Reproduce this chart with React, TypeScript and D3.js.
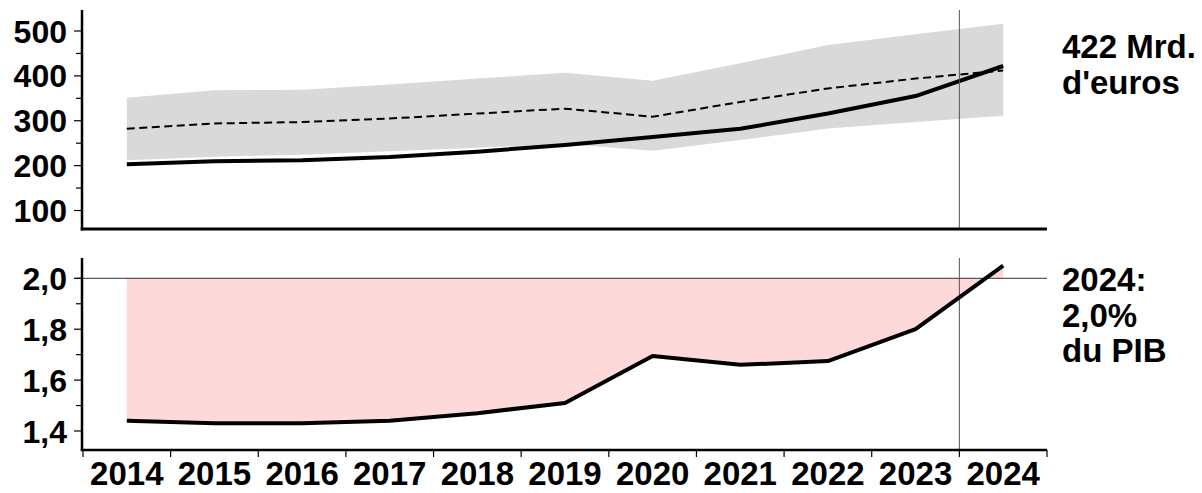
import React from 'react';
import * as d3 from 'd3';

const years = [2014, 2015, 2016, 2017, 2018, 2019, 2020, 2021, 2022, 2023, 2024];
const spending = [203, 210, 212, 219, 231, 246, 264, 282, 316, 355, 422];
const average = [282, 294, 297, 305, 316, 327, 309, 342, 372, 394, 412];
const rangeHigh = [351, 368, 369, 381, 394, 407, 389, 428, 469, 493, 516];
const rangeLow = [212, 220, 224, 232, 240, 248, 233, 257, 283, 297, 311];
const shareGDP = [1.44, 1.43, 1.43, 1.44, 1.47, 1.51, 1.695, 1.66, 1.675, 1.8, 2.05];
const topTicks = [100, 200, 300, 400, 500];
const topMinor = [150, 250, 350, 450];
const bottomTicks = [1.4, 1.6, 1.8, 2.0];
const bottomMinor = [1.5, 1.7, 1.9];
const targetShare = 2.0;
const markerYear = 2023.5;
const labelTop = ['422 Mrd.', "d'euros"];
const labelBottom = ['2024:', '2,0%', 'du PIB'];

const W = 1202;
const H = 493;
const FONT = '"Liberation Sans", Arial, sans-serif';

const frLocale = d3.formatLocale({ decimal: ',', thousands: ' ', grouping: [3], currency: ['', ' €'] });
const fmt1 = frLocale.format('.1f');

export default function App() {
  const x = d3.scaleLinear().domain([2013.5, 2024.5]).range([83, 1047]);
  const yTop = d3.scaleLinear().domain([58.77, 546.8]).range([229, 10]);
  const yBot = d3.scaleLinear().domain([1.3253, 2.0798]).range([450, 258]);

  const idx = years.map((_, i) => i);
  const band = d3.area<number>()
    .x((i) => x(years[i]))
    .y0((i) => yTop(rangeLow[i]))
    .y1((i) => yTop(rangeHigh[i]))(idx) as string;
  const avgLine = d3.line<number>().x((i) => x(years[i])).y((i) => yTop(average[i]))(idx) as string;
  const spLine = d3.line<number>().x((i) => x(years[i])).y((i) => yTop(spending[i]))(idx) as string;
  const pinkArea = d3.area<number>()
    .x((i) => x(years[i]))
    .y0(() => yBot(targetShare))
    .y1((i) => yBot(shareGDP[i]))(idx) as string;
  const shareLine = d3.line<number>().x((i) => x(years[i])).y((i) => yBot(shareGDP[i]))(idx) as string;

  const boundaries = d3.range(2013.5, 2025, 1);
  const axisX0 = x.range()[0] - 1;
  const axisX1 = x.range()[1];
  const markX = x(markerYear);

  return (
    <svg width={W} height={H} style={{ position: 'absolute', left: 0, top: 0, display: 'block', background: '#fff' }}>
      {/* Top panel */}
      <path d={band} fill="#d9d9d9" />
      <path d={avgLine} fill="none" stroke="#000" strokeWidth={2} strokeDasharray="8,4.5" />
      <path d={spLine} fill="none" stroke="#000" strokeWidth={4} strokeLinejoin="round" />
      <line x1={markX} x2={markX} y1={yTop.range()[1]} y2={yTop.range()[0]} stroke="#555" strokeWidth={1} />
      <line x1={axisX0} x2={axisX0} y1={yTop.range()[1]} y2={yTop.range()[0] + 1.5} stroke="#000" strokeWidth={2.5} />
      <line x1={axisX0 - 1.25} x2={axisX1} y1={yTop.range()[0]} y2={yTop.range()[0]} stroke="#000" strokeWidth={3} />
      {topTicks.map((t) => (
        <g key={'tt' + t}>
          <line x1={axisX0 - 8} x2={axisX0} y1={yTop(t)} y2={yTop(t)} stroke="#000" strokeWidth={1.2} />
          <text x={67} y={yTop(t)} dy="0.36em" textAnchor="end" fontFamily={FONT} fontWeight="bold" fontSize={32}>{t}</text>
        </g>
      ))}
      {topMinor.map((t) => (
        <line key={'tm' + t} x1={axisX0 - 6} x2={axisX0} y1={yTop(t)} y2={yTop(t)} stroke="#000" strokeWidth={1.2} />
      ))}
      {labelTop.map((s, i) => (
        <text key={'lt' + i} x={1062} y={58 + i * 36} fontFamily={FONT} fontWeight="bold" fontSize={33}>{s}</text>
      ))}

      {/* Bottom panel */}
      <path d={pinkArea} fill="#fdd9d9" />
      <line x1={axisX0 - 7} x2={axisX1} y1={yBot(targetShare)} y2={yBot(targetShare)} stroke="#333" strokeWidth={1} />
      <line x1={markX} x2={markX} y1={yBot.range()[1]} y2={yBot.range()[0]} stroke="#555" strokeWidth={1} />
      <path d={shareLine} fill="none" stroke="#000" strokeWidth={4} strokeLinejoin="round" />
      <line x1={axisX0} x2={axisX0} y1={yBot.range()[1]} y2={yBot.range()[0] + 1} stroke="#000" strokeWidth={2.5} />
      <line x1={axisX0 - 1.25} x2={axisX1} y1={yBot.range()[0]} y2={yBot.range()[0]} stroke="#000" strokeWidth={2.5} />
      {bottomTicks.map((t) => (
        <g key={'bt' + t}>
          <line x1={axisX0 - 8} x2={axisX0} y1={yBot(t)} y2={yBot(t)} stroke="#000" strokeWidth={1.2} />
          <text x={67} y={yBot(t)} dy="0.36em" textAnchor="end" fontFamily={FONT} fontWeight="bold" fontSize={32}>{fmt1(t)}</text>
        </g>
      ))}
      {bottomMinor.map((t) => (
        <line key={'bm' + t} x1={axisX0 - 6} x2={axisX0} y1={yBot(t)} y2={yBot(t)} stroke="#000" strokeWidth={1.2} />
      ))}
      {boundaries.map((b) => (
        <line key={'xb' + b} x1={x(b)} x2={x(b)} y1={yBot.range()[0]} y2={yBot.range()[0] + 7} stroke="#000" strokeWidth={1.2} />
      ))}
      {years.map((yr) => (
        <text key={'xl' + yr} x={x(yr)} y={485} textAnchor="middle" fontFamily={FONT} fontWeight="bold" fontSize={33}>{yr}</text>
      ))}
      {labelBottom.map((s, i) => (
        <text key={'lb' + i} x={1062} y={291 + i * 35.5} fontFamily={FONT} fontWeight="bold" fontSize={33}>{s}</text>
      ))}
    </svg>
  );
}
